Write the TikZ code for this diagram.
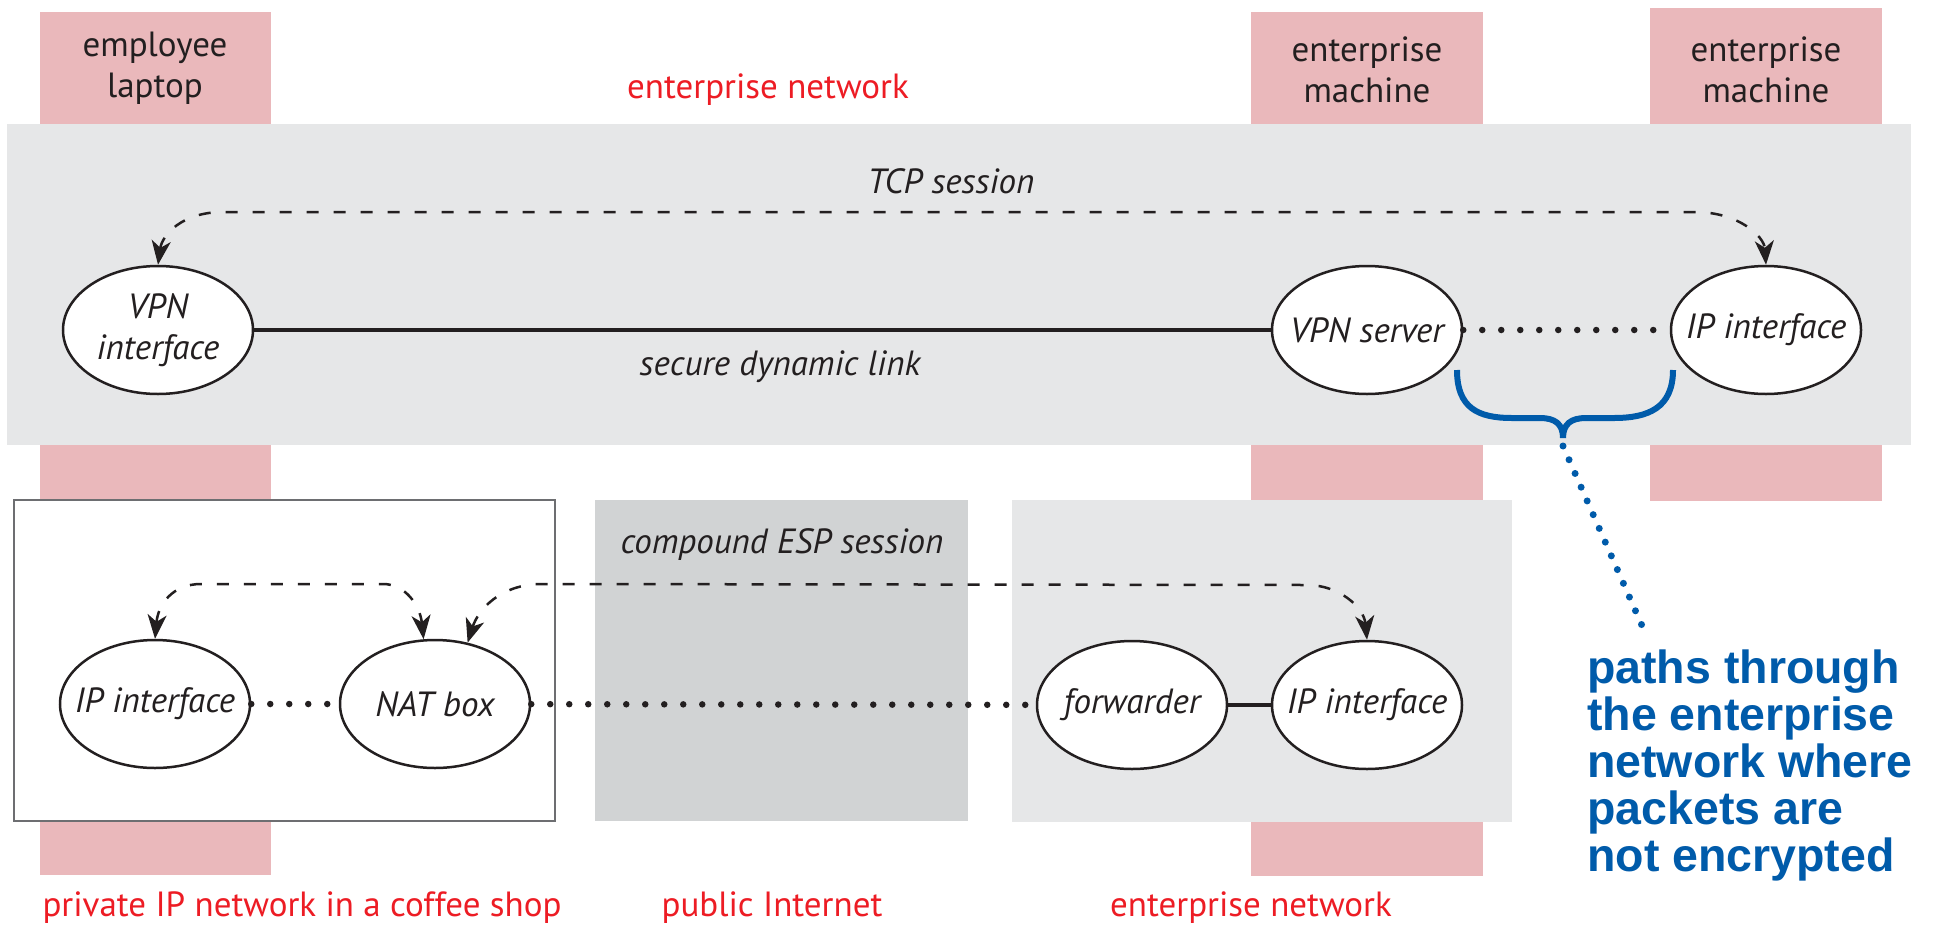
\documentclass[tikz,border=0pt]{standalone}
\usepackage{fontspec}
\setmainfont{PT Sans}
\newfontfamily\bluefont{Liberation Sans}
\usetikzlibrary{shapes.geometric,arrows.meta}
\definecolor{pinkc}{HTML}{EAB8BB}
\definecolor{bandc}{HTML}{E6E7E8}
\definecolor{inetc}{HTML}{D1D3D4}
\definecolor{redc}{HTML}{ED1C24}
\definecolor{bluec}{HTML}{005BAA}
\definecolor{inkc}{HTML}{231F20}
\definecolor{boxc}{HTML}{6D6E71}
\begin{document}
\begin{tikzpicture}[x=1pt,y=-1pt,
  nodeell/.style={ellipse, draw=inkc, line width=2.5pt, fill=white, minimum width=190pt, minimum height=128pt, inner sep=0pt},
  lbl/.style={font=\fontsize{35}{41}\selectfont\itshape, text=inkc, align=center},
  hostlbl/.style={font=\fontsize{35}{41}\selectfont, text=inkc, align=center},
  netlbl/.style={font=\fontsize{35}{41}\selectfont, text=redc, inner sep=0pt},
  sess/.style={draw=inkc, line width=2.5pt, dash pattern=on 12pt off 15pt, {Stealth[length=24pt,width=19pt,inset=7pt]}-{Stealth[length=24pt,width=19pt,inset=7pt]}},
  solidlink/.style={draw=inkc, line width=4.5pt},
  dotlink/.style={draw=inkc, line width=6.5pt, line cap=round, dash pattern=on 0pt off 19pt},
  bluenote/.style={font=\bluefont\bfseries\fontsize{46.5}{47}\selectfont, text=bluec, align=left}
]
\useasboundingbox (0,0) rectangle (1944,924);
\fill[white] (0,0) rectangle (1944,924);
% host columns
\fill[pinkc] (40,12) rectangle (271,875);
\fill[pinkc] (1251,12) rectangle (1483,876);
\fill[pinkc] (1650,8) rectangle (1882,501);
% regions
\fill[bandc] (7,124) rectangle (1911,445);
\filldraw[fill=white, draw=boxc, line width=2pt] (14,500) rectangle (555,821);
\fill[inetc] (595,500) rectangle (968,821);
\fill[bandc] (1012,500) rectangle (1512,822);

% host labels
\node[hostlbl] (hl1) at (155,68) {employee\\laptop};
\node[hostlbl] (hl2) at (1367,70) {enterprise\\machine};
\node[hostlbl] (hl3) at (1766,70) {enterprise\\machine};
\node[netlbl] (n1) at (768,90) {enterprise network};
\node[netlbl, anchor=base] (n2) at (302,916) {private IP network in a coffee shop};
\node[netlbl, anchor=base] (n3) at (772,916) {public Internet};
\node[netlbl, anchor=base] (n4) at (1251,916) {enterprise network};

% nodes
\node[nodeell, label={[lbl]center:VPN\\interface}] (vpnif) at (158,330) {};
\node[nodeell, label={[lbl]center:VPN server}] (vpnsrv) at (1367,330) {};
\node[nodeell, label={[lbl]center:IP interface}] (ipif1) at (1766,330) {};
\node[nodeell, label={[lbl]center:IP interface}] (ipif2) at (155,704) {};
\node[nodeell, label={[lbl]center:NAT box}] (nat) at (435,704) {};
\node[nodeell, label={[lbl]center:forwarder}] (fwd) at (1132,705) {};
\node[nodeell, label={[lbl]center:IP interface}] (ipif3) at (1367,705) {};

% links
\draw[solidlink] (vpnif) -- (vpnsrv);
\draw[dotlink] (vpnsrv) -- (ipif1);
\draw[dotlink] (ipif2) -- (nat);
\draw[dotlink] (nat) -- (fwd);
\draw[solidlink] (fwd) -- (ipif3);

\node[lbl] (ls) at (780,367) {secure dynamic link};
\node[lbl] (tcp) at (951,181) {TCP session};
\node[lbl] (esp) at (782,545) {compound ESP session};

% sessions
\draw[sess] (vpnif.north) .. controls (162,235) and (182,212) .. (223,212) -- (1695,212) .. controls (1738,212) and (1764,236) .. (ipif1.north);
\draw[sess] (ipif2.north) .. controls (158,605) and (172,584) .. (201,584) -- (383,584) .. controls (405,584) and (420,605) .. (nat.100);
\draw[sess] (nat.62) .. controls (478,610) and (500,584) .. (542,584) -- (1307,585) .. controls (1340,585) and (1364,608) .. (ipif3.north);

% brace and note
\coordinate (bl) at (1457,370);
\coordinate (br) at (1673,370);
\coordinate (btip) at (1563,438);
\draw[bluec, line width=6pt] (bl) .. controls (1457,408) and (1478,418) .. (1512,418) -- (1540,418) .. controls (1555,418) and (1563,424) .. (btip) .. controls (1563,424) and (1571,418) .. (1586,418) -- (1614,418) .. controls (1648,418) and (1673,408) .. (br);
\node[bluenote, anchor=north west, inner sep=0pt] (note) at (1587,650) {paths through\\the enterprise\\network where\\packets are\\not encrypted};
\draw[bluec, line width=7pt, line cap=round, dash pattern=on 0pt off 15pt] (1563,446) -- (1647,637);
\end{tikzpicture}
\end{document}
